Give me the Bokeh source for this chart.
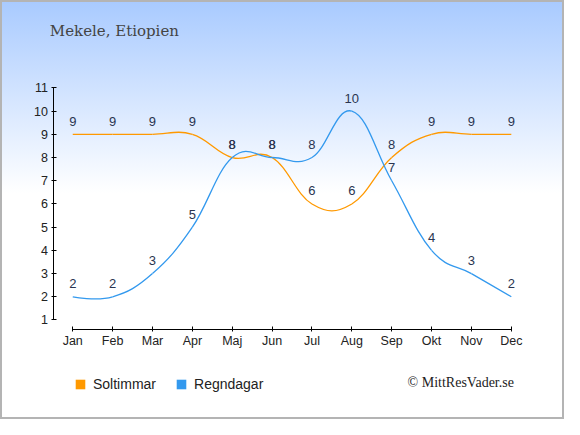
from bokeh.plotting import figure
from bokeh.models import FixedTicker, Label, Legend, LegendItem
from bokeh.embed import file_html
from bokeh.resources import INLINE
from bokeh.core.properties import value

months = ["Jan", "Feb", "Mar", "Apr", "Maj", "Jun", "Jul", "Aug", "Sep", "Okt", "Nov", "Dec"]
soltimmar = [9, 9, 9, 9, 8, 8, 6, 6, 8, 9, 9, 9]
regndagar = [2, 2, 3, 5, 8, 8, 8, 10, 7, 4, 3, 2]
y_ticks = list(range(1, 12))

ORANGE = "#ff9900"
BLUE = "#3399ee"
LABEL_C = "#2a3550"
NAN = float("nan")


def spline_segments(xs, ys, smoothing=1.5):
    n = len(xs)
    lc = [None] * n
    rc = [None] * n
    d = smoothing + 1
    for i in range(1, n - 1):
        lx = (smoothing * xs[i] + xs[i - 1]) / d
        ly = (smoothing * ys[i] + ys[i - 1]) / d
        rx = (smoothing * xs[i] + xs[i + 1]) / d
        ry = (smoothing * ys[i] + ys[i + 1]) / d
        corr = (ry - ly) * (rx - xs[i]) / (rx - lx) + ys[i] - ry
        lc[i] = (lx, ly + corr)
        rc[i] = (rx, ry + corr)
    seg = dict(x0=[], y0=[], x1=[], y1=[], cx0=[], cy0=[], cx1=[], cy1=[])
    for i in range(1, n):
        c0 = rc[i - 1] or (xs[i - 1], ys[i - 1])
        c1 = lc[i] or (xs[i], ys[i])
        seg["x0"].append(xs[i - 1]); seg["y0"].append(ys[i - 1])
        seg["x1"].append(xs[i]); seg["y1"].append(ys[i])
        seg["cx0"].append(c0[0]); seg["cy0"].append(c0[1])
        seg["cx1"].append(c1[0]); seg["cy1"].append(c1[1])
    return seg


xs = list(range(len(months)))

p = figure(width=564, height=419, output_backend="svg", toolbar_location=None,
           x_range=(-1.812, 12.334), y_range=(-3.287, 14.765),
           min_border=0)
p.border_fill_color = None
p.background_fill_color = None
p.outline_line_color = None
p.styles = {"background": "linear-gradient(to bottom, #a8caff 0px, #ffffff 193px)",
            "outline": "2px solid #b4b4b4", "outline-offset": "-2px"}
p.grid.visible = False

for ax in (p.xaxis[0], p.yaxis[0]):
    ax.axis_line_color = "#000000"
    ax.major_tick_line_color = "#000000"
    ax.minor_tick_line_color = None
    ax.major_tick_in = 3
    ax.major_tick_out = 2
    ax.major_label_text_font = "Liberation Sans"
    ax.major_label_text_font_size = "12.5px"
    ax.major_label_text_color = "#222222"

p.xaxis.ticker = FixedTicker(ticks=xs)
p.xaxis.major_label_overrides = {i: m for i, m in enumerate(months)}
p.xaxis.bounds = (0, 11)
p.xaxis.fixed_location = 0.593
p.xaxis.major_label_standoff = 3
p.yaxis.ticker = FixedTicker(ticks=y_ticks)
p.yaxis.bounds = (1, 11)
p.yaxis.fixed_location = -0.495
p.yaxis.major_label_standoff = 3

s1 = spline_segments(xs, soltimmar)
p.bezier(source=s1, x0="x0", y0="y0", x1="x1", y1="y1", cx0="cx0", cy0="cy0", cx1="cx1", cy1="cy1",
         line_color=ORANGE, line_width=1.3)
s2 = spline_segments(xs, regndagar)
p.bezier(source=s2, x0="x0", y0="y0", x1="x1", y1="y1", cx0="cx0", cy0="cy0", cx1="cx1", cy1="cy1",
         line_color=BLUE, line_width=1.3)

for vals in (soltimmar, regndagar):
    p.text(x=xs, y=vals, text=[str(v) for v in vals], text_font=value("Liberation Sans"),
           text_font_size="13px", text_color=LABEL_C, text_align="center",
           text_baseline="middle", y_offset=-13)

# legend-only swatches (no visible data)
r_sol = p.quad(left=[NAN], right=[NAN], top=[NAN], bottom=[NAN], fill_color=ORANGE, line_color=None)
r_reg = p.quad(left=[NAN], right=[NAN], top=[NAN], bottom=[NAN], fill_color=BLUE, line_color=None)

legend = Legend(items=[LegendItem(label="Soltimmar", renderers=[r_sol]),
                       LegendItem(label="Regndagar", renderers=[r_reg])],
                orientation="horizontal", location=(74, 27),
                glyph_width=12, glyph_height=12, label_height=12, label_standoff=7,
                spacing=19, padding=0, margin=0,
                border_line_color=None, background_fill_color=None,
                label_text_font="Liberation Sans", label_text_font_size="14px",
                label_text_color="#222222")
p.add_layout(legend)

p.add_layout(Label(x=49.3, y=388.2, x_units="screen", y_units="screen", text="Mekele, Etiopien",
                   text_font="DejaVu Serif", text_font_size="15px", text_color="#444444",
                   text_baseline="middle", text_align="left"))
p.add_layout(Label(x=513.4, y=36.6, x_units="screen", y_units="screen", text="© MittResVader.se",
                   text_font="Liberation Serif", text_font_size="14px", text_color="#222222",
                   text_baseline="middle", text_align="right"))

open("out.html", "w").write(file_html(p, INLINE))
